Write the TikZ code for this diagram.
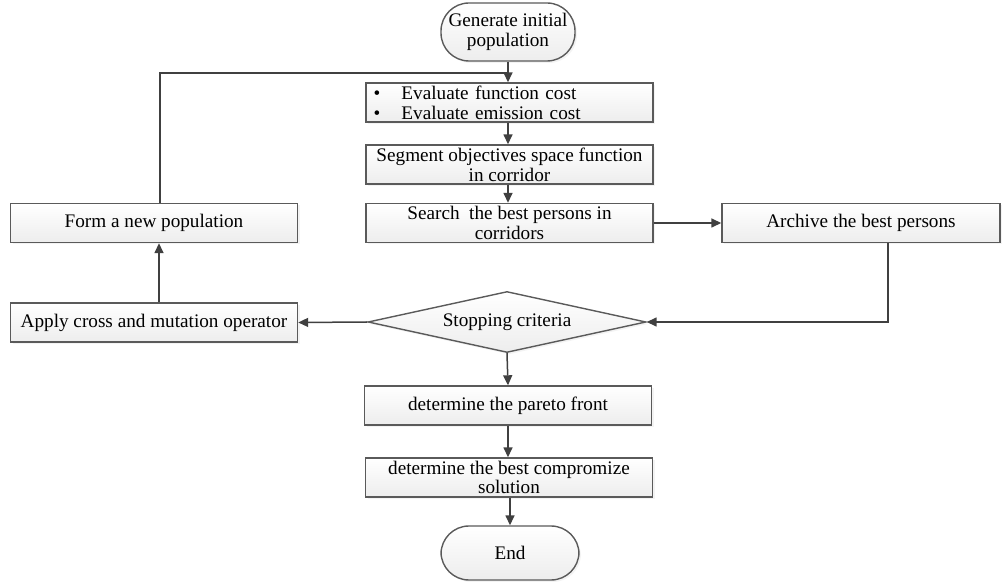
\documentclass[tikz,border=0pt]{standalone}
\usepackage{fontspec}
\setmainfont{Liberation Serif}
\usetikzlibrary{shapes.geometric,arrows.meta,shadows,calc}
\definecolor{edgegray}{HTML}{5A5A5A}
\definecolor{linegray}{HTML}{404040}

\begin{document}
\begin{tikzpicture}[x=0.5pt,y=-0.5pt,
  box/.style={draw=edgegray,line width=0.7pt,top color=white,bottom color=gray!14,
    drop shadow={shadow xshift=1pt,shadow yshift=-1pt,fill=gray!18},
    minimum width=143.5pt,minimum height=19.5pt,inner sep=1pt,align=center,
    font=\fontsize{9.6}{9.9}\selectfont},
  term/.style={box,rounded corners=14pt,minimum width=67pt,minimum height=29pt},
  decide/.style={draw=edgegray,line width=0.7pt,diamond,aspect=4.5,inner sep=0pt,
    top color=white,bottom color=gray!14,
    drop shadow={shadow xshift=1pt,shadow yshift=-1pt,fill=gray!18},
    minimum width=139pt,minimum height=30.5pt,font=\fontsize{9.6}{9.9}\selectfont},
  flow/.style={draw=linegray,line width=0.75pt,-{Triangle[length=5pt,width=4.5pt]}},
  link/.style={draw=linegray,line width=0.75pt}]
\useasboundingbox (0,0) rectangle (1002,582);

\node[term] (start) at (508,32) {Generate initial\\population};
\node[box,align=left,text width=136pt,inner xsep=3.5pt] (eval) at (509.5,102.5)
  {\makebox[14pt][l]{\textbullet}Evaluate function cost\\\makebox[14pt][l]{\textbullet}Evaluate emission cost};
\node[box] (segm) at (509.5,164.5) {Segment objectives space function\\in corridor};
\node[box] (search) at (509.5,223) {Search\ \ the best persons in\\corridors};
\node[box,minimum width=139pt] (archive) at (861,223) {Archive the best persons};
\node[box] (form) at (154,223) {Form a new population};
\node[box] (apply) at (154,322.5) {Apply cross and mutation operator};
\node[decide] (crit) at (507,322) {Stopping criteria};
\node[box] (pareto) at (508,405.5) {determine the pareto front};
\node[box] (compro) at (509,477.5) {determine the best compromize\\solution};
\node[term,minimum width=69pt,minimum height=27pt] (end) at (510,553) {End};

\coordinate (join) at ($(start.south)!.55!(start.south |- eval.north)$);

\draw[flow] (start.south) -- (start.south |- eval.north);
\draw[link] ([xshift=3pt]form.north) |- (join);
\draw[flow] (eval.south -| start.south) -- (segm.north -| start.south);
\draw[flow] (segm.south -| start.south) -- (search.north -| start.south);
\draw[flow] (search.east) -- (archive.west);
\draw[flow] ([xshift=13.5pt]archive.south) |- (crit.east);
\draw[flow] (crit.west) -- (apply.east);
\draw[flow] ([xshift=2.5pt]apply.north) -- ([xshift=2.5pt]form.south);
\draw[flow] (crit.south) -- (pareto.north);
\draw[flow] (pareto.south) -- (pareto.south |- compro.north);
\draw[flow] (compro.south -| end.north) -- (end.north);
\end{tikzpicture}
\end{document}
